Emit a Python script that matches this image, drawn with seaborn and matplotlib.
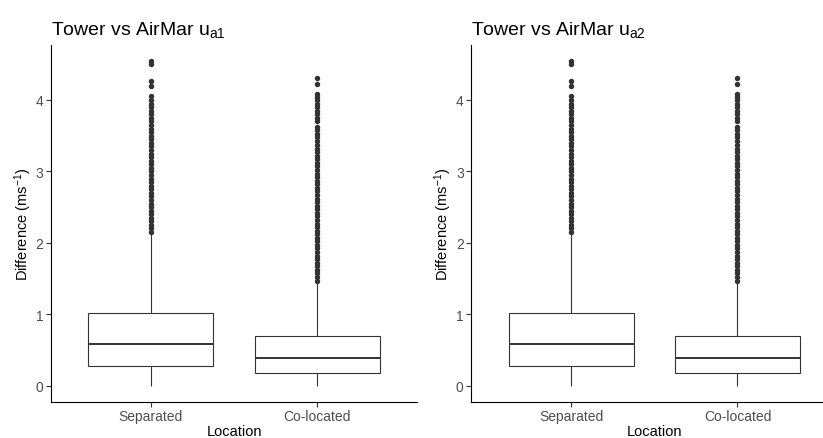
import matplotlib
matplotlib.use("Agg")
import matplotlib.pyplot as plt
import seaborn as sns
import pandas as pd

# ---- data ----
categories = ["Separated", "Co-located"]
panel_titles = [r"Tower vs AirMar u$_{a1}$", r"Tower vs AirMar u$_{a2}$"]

q1 = [0.27, 0.18]
median = [0.58, 0.38]
q3 = [1.02, 0.69]
whisker_low = [0.0, 0.0]
whisker_high = [2.14, 1.45]

outliers_separated = [
    2.15, 2.20, 2.25, 2.30, 2.35, 2.40, 2.45, 2.50, 2.55, 2.60, 2.65, 2.70,
    2.75, 2.80, 2.85, 2.90, 2.95, 3.00, 3.05, 3.10, 3.15, 3.20, 3.25, 3.30,
    3.35, 3.40, 3.45, 3.50, 3.55, 3.60, 3.65, 3.70, 3.75, 3.80, 3.85, 3.90,
    3.95, 4.00, 4.05, 4.19, 4.27, 4.50, 4.55,
]
outliers_colocated = [
    1.47, 1.52, 1.57, 1.62, 1.67, 1.72, 1.77, 1.82, 1.87, 1.92, 1.97, 2.02,
    2.07, 2.12, 2.17, 2.22, 2.27, 2.32, 2.37, 2.42, 2.47, 2.52, 2.57, 2.62,
    2.67, 2.72, 2.77, 2.82, 2.87, 2.92, 2.97, 3.02, 3.07, 3.12, 3.17, 3.22,
    3.27, 3.32, 3.37, 3.42, 3.48, 3.53, 3.58, 3.62, 3.70, 3.75, 3.80, 3.84,
    3.90, 3.95, 4.00, 4.04, 4.08, 4.22, 4.31,
]
outliers = [outliers_separated, outliers_colocated]
y_ticks = [0, 1, 2, 3, 4]

# Build a sample per group whose box statistics reproduce the values above
BLOCK = 500
rows = []
for i, cat in enumerate(categories):
    vals = ([whisker_low[i]] + [q1[i]] * BLOCK + [median[i]] * BLOCK +
            [q3[i]] * BLOCK + [whisker_high[i]] + outliers[i])
    rows += [(cat, v) for v in vals]
df = pd.DataFrame(rows, columns=["Location", "Difference"])

# ---- styling ----
sns.set_style("ticks")
plt.rcParams["font.family"] = ["Liberation Sans", "DejaVu Sans"]
plt.rcParams["mathtext.fontset"] = "custom"
plt.rcParams["mathtext.rm"] = "Liberation Sans"
plt.rcParams["mathtext.it"] = "Liberation Sans"
plt.rcParams["mathtext.default"] = "regular"

fig = plt.figure(figsize=(8.23, 4.39), dpi=100)
W, H = 823, 439
lefts_px = [51, 471.3]
width_px = 366
top_px, bottom_px = 46, 403

for k, title in enumerate(panel_titles):
    ax = fig.add_axes([lefts_px[k] / W, 1 - bottom_px / H,
                       width_px / W, (bottom_px - top_px) / H])
    sns.boxplot(data=df, x="Location", y="Difference", order=categories,
                ax=ax, color="white", linecolor="#333333", linewidth=0.8,
                width=0.75, fliersize=2.9, showcaps=False,
                flierprops=dict(marker="o", markerfacecolor="#333333",
                                markeredgecolor="#333333"),
                medianprops=dict(linewidth=1.4, color="#333333"))
    ax.set_xlim(-0.6, 1.6)
    ax.set_ylim(-0.23, 4.77)
    ax.set_yticks(y_ticks)
    ax.set_title(title, loc="left", fontsize=14, pad=8, color="black")
    ax.set_xlabel("Location", fontsize=10.5, labelpad=1, color="black")
    ax.set_ylabel(r"Difference (ms$^{-1}$)", fontsize=10.5, labelpad=1,
                  color="black")
    for s in ["top", "right"]:
        ax.spines[s].set_visible(False)
    for s in ["left", "bottom"]:
        ax.spines[s].set_color("black")
        ax.spines[s].set_linewidth(0.8)
    ax.tick_params(axis="both", length=3.5, width=0.8, color="#333333",
                   labelcolor="#4D4D4D", labelsize=10, pad=2)
    ax.tick_params(axis="x", pad=1.5)
    ax.set_facecolor("white")

fig.savefig("out.png", dpi=100, facecolor="white")
